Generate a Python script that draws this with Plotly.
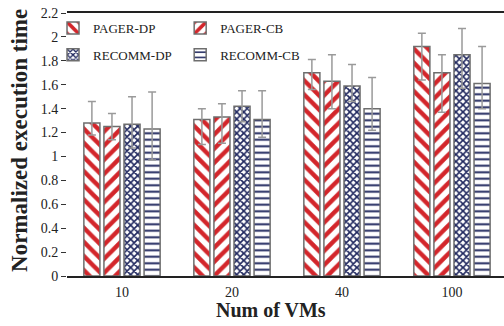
import plotly.graph_objects as go

categories = ["10", "20", "40", "100"]
series_names = ["PAGER-DP", "PAGER-CB", "RECOMM-DP", "RECOMM-CB"]
pager_dp = [1.28, 1.31, 1.70, 1.92]
pager_cb = [1.25, 1.33, 1.63, 1.70]
recomm_dp = [1.27, 1.42, 1.59, 1.85]
recomm_cb = [1.23, 1.31, 1.40, 1.61]
err_hi = {
    "PAGER-DP": [0.18, 0.09, 0.11, 0.11],
    "PAGER-CB": [0.11, 0.11, 0.22, 0.15],
    "RECOMM-DP": [0.23, 0.13, 0.18, 0.22],
    "RECOMM-CB": [0.31, 0.24, 0.26, 0.31],
}
err_lo = {
    "PAGER-DP": [0.10, 0.21, 0.14, 0.28],
    "PAGER-CB": [0.11, 0.22, 0.23, 0.33],
    "RECOMM-DP": [0.20, 0.13, 0.13, 0.28],
    "RECOMM-CB": [0.26, 0.15, 0.18, 0.21],
}
values = {"PAGER-DP": pager_dp, "PAGER-CB": pager_cb,
          "RECOMM-DP": recomm_dp, "RECOMM-CB": recomm_cb}

RED = "#d3262b"
NAVY = "#1f275e"
styles = {
    "PAGER-DP": dict(shape="\\", fgcolor=RED, size=10, solidity=0.45),
    "PAGER-CB": dict(shape="/", fgcolor=RED, size=10, solidity=0.45),
    "RECOMM-DP": dict(shape="x", fgcolor=NAVY, size=5, solidity=0.55),
    "RECOMM-CB": dict(shape="-", fgcolor=NAVY, size=6.5, solidity=0.3),
}
legend_of = {"PAGER-DP": "legend", "RECOMM-DP": "legend",
             "PAGER-CB": "legend2", "RECOMM-CB": "legend2"}

FONT = "Liberation Serif, Times New Roman, serif"

fig = go.Figure()
for name in series_names:
    st = styles[name]
    fig.add_trace(go.Bar(
        x=categories, y=values[name], name=name,
        legend=legend_of[name], legendgroup=name,
        marker=dict(color="white",
                    line=dict(color="#6e6e6e", width=1.5),
                    pattern=dict(shape=st["shape"], fgcolor=st["fgcolor"],
                                 bgcolor="white", size=st["size"],
                                 solidity=st["solidity"], fgopacity=1,
                                 fillmode="overlay")),
        error_y=dict(type="data", symmetric=False,
                     array=err_hi[name], arrayminus=err_lo[name],
                     color="#9a9a9a", thickness=1.5, width=4),
    ))

legend_common = dict(font=dict(family=FONT, size=13, color="#222"),
                     bgcolor="rgba(0,0,0,0)", tracegroupgap=7,
                     itemwidth=30, xanchor="left", yanchor="top",
                     traceorder="grouped")
fig.update_layout(
    width=504, height=326,
    margin=dict(l=67, r=0, t=13, b=50),
    paper_bgcolor="white", plot_bgcolor="white",
    barmode="group", bargap=0.27, bargroupgap=0.2,
    font=dict(family=FONT, size=13, color="#222"),
    showlegend=True,
    legend=dict(x=-0.032, y=1.0, **legend_common),
    legend2=dict(x=0.259, y=1.0, **legend_common),
    xaxis=dict(range=[-0.5, 3.473], showline=True, linecolor="#222",
               linewidth=1.5, mirror=True, ticks="", showgrid=False,
               tickfont=dict(family=FONT, size=14), ticklabelstandoff=2),
    yaxis=dict(range=[0, 2.2], dtick=0.2, tick0=0, showline=False,
               ticks="outside", ticklen=5, tickcolor="#333", showgrid=False,
               zeroline=False, tickfont=dict(family=FONT, size=14),
               tickformat="~g"),
    annotations=[
        dict(text="<b>Num of VMs</b>", xref="paper", yref="paper",
             x=0.467, y=-0.131, xanchor="center", yanchor="middle",
             showarrow=False, font=dict(family=FONT, size=20)),
        dict(text="<b>Normalized execution time</b>", xref="paper",
             yref="paper", x=-0.11, y=0.517, xanchor="center",
             yanchor="middle", textangle=-90, showarrow=False,
             font=dict(family=FONT, size=23)),
    ],
)
fig.write_html("out.html", config={"displayModeBar": False},
               post_script="document.body.style.margin='0px';")
